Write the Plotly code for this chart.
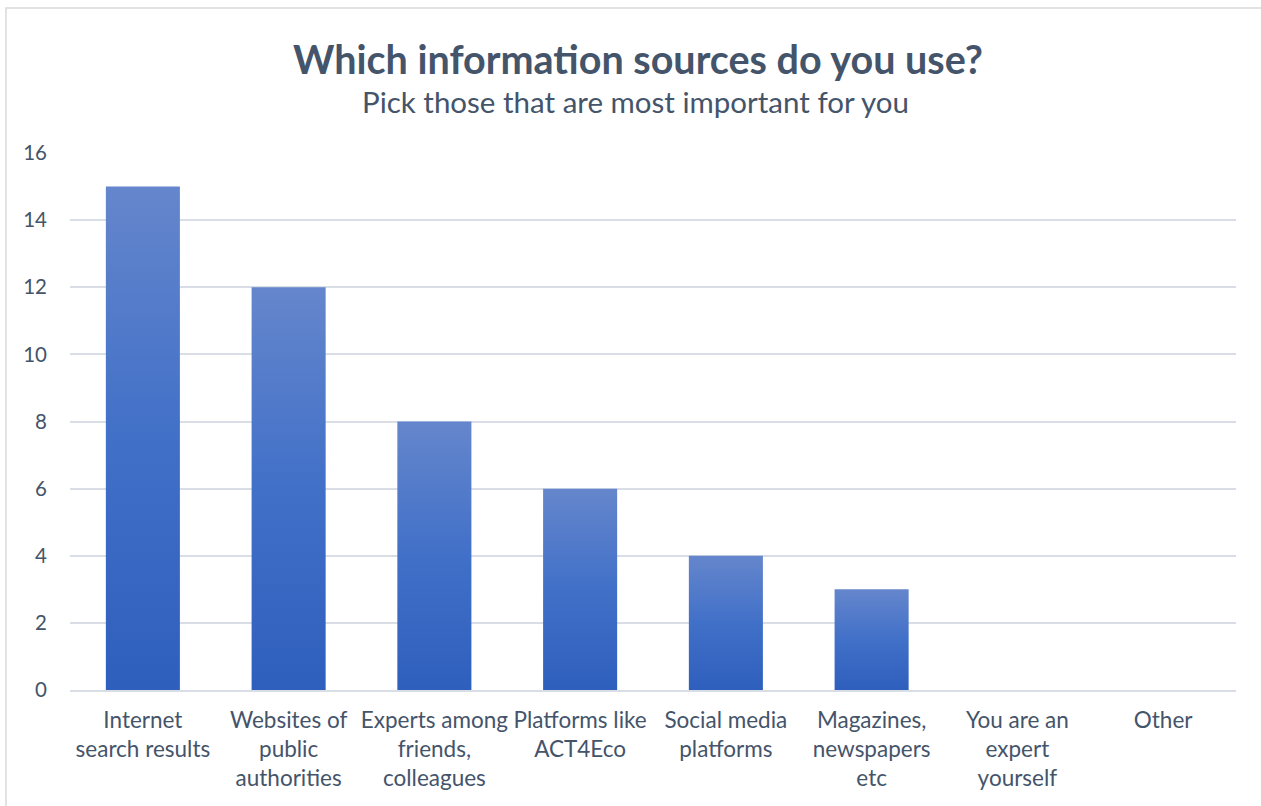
import plotly.graph_objects as go

# Survey answers: how many respondents picked each information source
categories = [
    "Internet<br>search results",
    "Websites of<br>public<br>authorities",
    "Experts among<br>friends,<br>colleagues",
    "Platforms like<br>ACT4Eco",
    "Social media<br>platforms",
    "Magazines,<br>newspapers<br>etc",
    "You are an<br>expert<br>yourself",
    "Other",
]
counts = [15, 12, 8, 6, 4, 3, 0, 0]
y_ticks = [0, 2, 4, 6, 8, 10, 12, 14, 16]

TEXT = "#44546a"
GRID = "#d9dee6"
HALF_W = 0.254  # half bar width in category units

fig = go.Figure()

# Each column is a filled polygon so it can carry a vertical colour gradient
for i, v in enumerate(counts):
    if v <= 0:
        continue
    fig.add_trace(go.Scatter(
        x=[i - HALF_W, i - HALF_W, i + HALF_W, i + HALF_W, i - HALF_W],
        y=[0, v, v, 0, 0],
        mode="lines",
        line=dict(width=0),
        fill="toself",
        fillgradient=dict(
            type="vertical",
            colorscale=[[0, "#2f5fbd"], [0.5, "#4170c8"], [1, "#6586cc"]],
            start=0,
            stop=v,
        ),
        hoverinfo="text",
        text=f"{categories[i].replace('<br>', ' ')}: {v}",
        showlegend=False,
    ))

fig.update_layout(
    width=1261,
    height=806,
    margin=dict(l=70, r=25, t=153, b=116),
    paper_bgcolor="white",
    plot_bgcolor="white",
    font=dict(family="Lato, 'Open Sans', sans-serif", color=TEXT, size=21),
    xaxis=dict(
        range=[-0.5, len(categories) - 0.5],
        tickmode="array",
        tickvals=list(range(len(categories))),
        ticktext=categories,
        showgrid=False,
        zeroline=False,
        showline=True,
        linecolor=GRID,
        linewidth=1.5,
        ticks="",
        tickfont=dict(size=22.5, color=TEXT),
        ticklabelstandoff=9,
        fixedrange=True,
    ),
    yaxis=dict(
        range=[0, 16],
        tickmode="array",
        tickvals=y_ticks,
        showgrid=True,
        gridcolor=GRID,
        gridwidth=1.5,
        zeroline=False,
        showline=False,
        ticks="",
        tickfont=dict(size=20.5, color=TEXT),
        ticklabelstandoff=22,
        fixedrange=True,
    ),
    annotations=[
        dict(
            text="<b>Which information sources do you use?</b>",
            xref="paper", yref="paper", x=0.487, y=1.0,
            yanchor="middle", xanchor="center", yshift=153 - 58,
            showarrow=False, font=dict(size=39.5, color=TEXT),
        ),
        dict(
            text="Pick those that are most important for you",
            xref="paper", yref="paper", x=0.485, y=1.0,
            yanchor="middle", xanchor="center", yshift=153 - 101,
            showarrow=False, font=dict(size=29.5, color=TEXT),
        ),
    ],
    shapes=[
        dict(
            type="rect", xref="paper", yref="paper",
            x0=(6 - 70) / 1166, x1=(1275 - 70) / 1166,
            y0=-(820 - 690) / 537, y1=(690 - 8) / 537,
            line=dict(color="#d9d9d9", width=1.5),
            fillcolor="rgba(0,0,0,0)", layer="below",
        )
    ],
)

fig.write_html("out.html")
